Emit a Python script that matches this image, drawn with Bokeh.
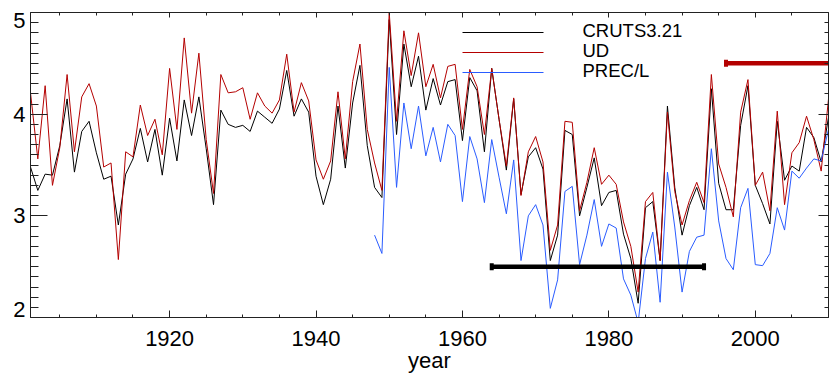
import math
from bokeh.plotting import figure
from bokeh.models import (FixedTicker, LinearAxis, Range1d, CustomJSTickFormatter,
                          ColumnDataSource)
from bokeh.core.properties import value
from bokeh.embed import file_html
from bokeh.resources import INLINE

# ---------------- data ----------------
years = list(range(1901, 2011))
cruts = [3.48, 3.25, 3.41, 3.40, 3.69, 4.15, 3.43, 3.83, 3.93, 3.62,
         3.36, 3.39, 2.91, 3.41, 3.56, 3.86, 3.53, 3.85, 3.40, 3.96,
         3.54, 4.14, 3.79, 4.17, 3.66, 3.11, 4.04, 3.90, 3.87, 3.89,
         3.83, 4.03, 3.97, 3.91, 4.05, 4.43, 3.98, 4.15, 4.02, 3.39,
         3.11, 3.36, 4.08, 3.47, 4.11, 4.48, 3.69, 3.28, 3.18, 4.93,
         3.80, 4.69, 4.27, 4.57, 4.04, 4.35, 4.09, 4.32, 4.34, 3.74,
         4.36, 4.23, 3.63, 4.45, 3.95, 3.45, 4.15, 3.21, 3.58, 3.67,
         3.46, 2.56, 2.81, 3.84, 3.80, 3.00, 3.28, 3.57, 3.10, 3.23,
         3.25, 2.82, 2.58, 2.14, 3.08, 3.14, 2.56, 4.08, 3.28, 2.81,
         3.10, 3.28, 3.06, 4.25, 3.32, 3.06, 3.06, 3.89, 4.28, 3.30,
         3.12, 2.92, 3.93, 3.35, 3.49, 3.44, 3.87, 3.77, 3.53, 3.97]
ud = [4.21, 3.56, 4.28, 3.30, 3.67, 4.39, 3.63, 4.17, 4.30, 4.08,
      3.48, 3.52, 2.57, 3.63, 3.58, 4.09, 3.79, 3.95, 3.60, 4.45,
      3.85, 4.75, 4.01, 4.60, 3.75, 3.22, 4.39, 4.21, 4.22, 4.26,
      3.95, 4.21, 4.08, 4.01, 4.14, 4.59, 4.02, 4.31, 4.13, 3.55,
      3.36, 3.54, 4.22, 3.56, 4.32, 4.69, 3.85, 3.52, 3.25, 5.00,
      3.93, 4.82, 4.38, 4.80, 4.27, 4.49, 4.16, 4.47, 4.49, 3.85,
      4.44, 4.27, 3.80, 4.45, 3.95, 3.49, 4.16, 3.20, 3.63, 3.78,
      3.53, 2.66, 2.91, 3.93, 3.92, 3.05, 3.33, 3.67, 3.31, 3.40,
      3.31, 2.94, 2.70, 2.25, 3.14, 3.23, 2.56, 4.02, 3.24, 2.91,
      3.15, 3.33, 3.13, 4.39, 3.51, 3.28, 2.99, 4.02, 4.34, 3.30,
      3.43, 3.05, 4.03, 3.11, 3.62, 3.72, 3.98, 3.75, 3.44, 4.15]
precl_years = list(range(1948, 2011))
precl = [2.81, 2.63, 4.46, 3.28, 4.11, 3.66, 4.08, 3.59, 3.87, 3.53,
         3.90, 3.79, 3.14, 3.78, 3.56, 3.13, 3.75, 3.38, 3.02, 3.55,
         2.56, 3.00, 3.11, 2.91, 2.09, 2.37, 3.24, 3.29, 2.52, 2.81,
         3.16, 2.70, 2.92, 2.88, 2.38, 2.22, 1.95, 2.58, 2.84, 2.15,
         3.43, 2.89, 2.25, 2.65, 2.79, 2.81, 3.66, 2.95, 2.58, 2.47,
         3.08, 3.27, 2.52, 2.51, 2.63, 3.08, 2.86, 3.44, 3.37, 3.47,
         3.56, 3.54, 3.85]
series_names = ["CRUTS3.21", "UD", "PREC/L"]
period_start = [1964, 1996]
period_end = [1993, 2025]
period_level = [2.5, 4.5]
xtick_values = [1920, 1940, 1960, 1980, 2000]
ytick_values = [2, 3, 4, 5]
ytick_labels = ["2", "3", "4", "5"]
x_label = "year"

# ---------------- styles / layout ----------------
FONT = "Liberation Sans"
BLACK = "#000000"
AX = "#222222"
RED = "#b40000"
BLUE = "#2a5cff"
series_colors = [BLACK, RED, BLUE]
X0, X1 = 1901, 2010
Y0, Y1 = 2.0, 5.0
W, H = 830, 376
BL, BR, BT, BB = 30, 2, 12, 59
frame_w = W - BL - BR
frame_h = H - BT - BB
ux = (X1 - X0) / frame_w      # data units per pixel (x)
uy = (Y1 - Y0) / frame_h      # data units per pixel (y)

p = figure(width=W, height=H, x_range=Range1d(X0, X1), y_range=Range1d(Y0, Y1),
           output_backend="svg", toolbar_location=None,
           min_border_left=BL, min_border_right=BR, min_border_top=BT, min_border_bottom=BB)
p.grid.visible = False
p.outline_line_color = None
p.background_fill_color = "white"
p.border_fill_color = "white"

x_minor = list(range(1905, 2010, 5))
y_minor = [round(Y0 + 0.1 * i, 1) for i in range(31)]
blank = CustomJSTickFormatter(code="return ''")

# bottom axis
xa = p.xaxis[0]
xa.ticker = FixedTicker(ticks=xtick_values, minor_ticks=x_minor)
xa.major_tick_in = 7
xa.major_tick_out = 0
xa.minor_tick_in = 3
xa.minor_tick_out = 0
xa.major_label_standoff = 13
xa.major_label_text_font = FONT
xa.major_label_text_font_size = "22px"
xa.major_label_text_color = BLACK
xa.axis_line_color = AX
xa.major_tick_line_color = AX
xa.minor_tick_line_color = AX
xa.axis_label = x_label
xa.axis_label_standoff = -1
xa.axis_label_text_font = FONT
xa.axis_label_text_font_size = "22px"
xa.axis_label_text_font_style = "normal"
xa.axis_label_text_color = BLACK

# left axis (ticks only, next to frame)
ya = p.yaxis[0]
ya.ticker = FixedTicker(ticks=ytick_values, minor_ticks=y_minor)
ya.formatter = blank
ya.major_tick_in = 17
ya.major_tick_out = 0
ya.minor_tick_in = 8
ya.minor_tick_out = 0
ya.major_label_standoff = 0
ya.axis_line_color = AX
ya.major_tick_line_color = AX
ya.minor_tick_line_color = AX

# left labels (outer end labels nudged inward as in the original)
nudge = 0.08
label_pos = []
for v in ytick_values:
    if v == min(ytick_values):
        label_pos.append(round(v + nudge, 3))
    elif v == max(ytick_values):
        label_pos.append(round(v - nudge, 3))
    else:
        label_pos.append(float(v))
yl = LinearAxis(ticker=FixedTicker(ticks=label_pos, minor_ticks=[]),
                major_label_overrides={pos: lab for pos, lab in zip(label_pos, ytick_labels)},
                axis_line_color=None, major_tick_in=0, major_tick_out=0,
                minor_tick_in=0, minor_tick_out=0, major_label_standoff=5,
                major_label_text_font=FONT, major_label_text_font_size="22px",
                major_label_text_color=BLACK)
p.add_layout(yl, "left")

# top axis (ticks only)
top = LinearAxis(ticker=FixedTicker(ticks=xtick_values, minor_ticks=x_minor), formatter=blank,
                 major_tick_in=5, major_tick_out=0, minor_tick_in=3, minor_tick_out=0,
                 major_label_standoff=0, axis_line_color=AX,
                 major_tick_line_color=AX, minor_tick_line_color=AX)
p.add_layout(top, "above")

# right axis (ticks only)
right = LinearAxis(ticker=FixedTicker(ticks=ytick_values, minor_ticks=y_minor), formatter=blank,
                   major_tick_in=10, major_tick_out=0, minor_tick_in=4, minor_tick_out=0,
                   major_label_standoff=0, axis_line_color=AX,
                   major_tick_line_color=AX, minor_tick_line_color=AX)
p.add_layout(right, "right")

# series
p.line(years, cruts, line_color=series_colors[0], line_width=1)
p.line(years, ud, line_color=series_colors[1], line_width=1)
p.line(precl_years, precl, line_color=series_colors[2], line_width=1)

# period bars
bar_colors = [BLACK, RED]
p.segment(x0=period_start, y0=period_level, x1=period_end, y1=period_level,
          line_color=bar_colors, line_width=4.5)
p.scatter(x=period_start + period_end, y=period_level + period_level, marker="dash",
          angle=math.pi / 2, size=7, line_width=4, line_color=bar_colors + bar_colors)

# legend (keys and labels placed by pixel offsets from the frame's top-left)
key_left, key_len, text_left = 432, 81, 552
row_line = [20, 40, 60]
row_text = [18, 38, 58]
leg_lines = ColumnDataSource(dict(
    x0=[X0 + key_left * ux] * 3,
    x1=[X0 + (key_left + key_len) * ux] * 3,
    y=[Y1 - r * uy for r in row_line],
    color=series_colors))
p.segment(x0="x0", y0="y", x1="x1", y1="y", line_color="color", line_width=1, source=leg_lines)
leg_text = ColumnDataSource(dict(
    x=[X0 + text_left * ux] * 3,
    y=[Y1 - r * uy for r in row_text],
    text=series_names))
p.text(x="x", y="y", text="text", source=leg_text, text_font=value(FONT),
       text_font_size="18.5px", text_baseline="middle", text_align="left", text_color=BLACK)

open("out.html", "w").write(file_html(p, INLINE))
